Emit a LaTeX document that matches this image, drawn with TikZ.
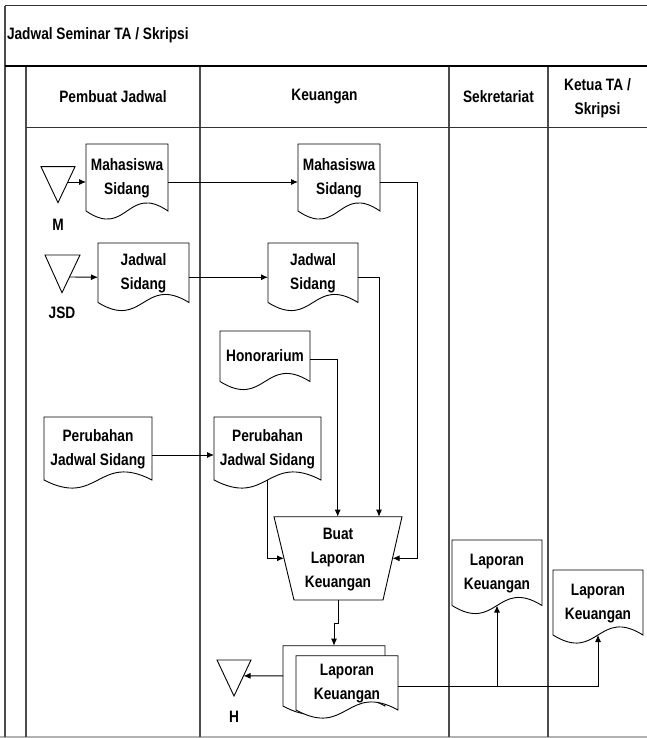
\documentclass[tikz,border=0pt]{standalone}
\usepackage{fontspec}
\setmainfont{Liberation Sans}[FakeStretch=0.83]
\usetikzlibrary{arrows.meta,calc,backgrounds}
\newcommand\dtxt[1]{\raisebox{4pt}{\begin{tabular}{@{}c@{}}#1\end{tabular}}}
\newcommand\ctxt[1]{\begin{tabular}{@{}c@{}}#1\end{tabular}}
\begin{document}
\begin{tikzpicture}[x=1pt,y=-1pt,
  every node/.style={font=\fontsize{16.5}{24}\selectfont\bfseries, inner sep=0pt, outer sep=0pt},
  docbox/.style={draw=none, anchor=north west, minimum width=#1},
  lane/.style={draw=black!70, line width=1.4pt},
  shapeline/.style={draw=black, line width=0.9pt, fill=white},
  conn/.style={draw=black, line width=0.9pt},
  arr/.style={conn, -{Latex[length=7pt,width=6pt]}}]
\useasboundingbox (0,0) rectangle (647,738);
% frame
\draw[black!30, line width=1.5pt] (0,737) -- (647,737);
\draw[black!80, line width=1pt] (5,6) -- (647,6);
\draw[lane] (5,6) -- (5,737);
\draw[lane] (26,66) -- (26,737);
\draw[lane] (200,66) -- (200,737);
\draw[lane] (449,66) -- (449,737);
\draw[lane] (548,66) -- (548,737);
\draw[black!80, line width=1pt] (26,128) -- (647,128);
\draw[black, line width=2.6pt] (5,66) -- (647,66);
% titles
\node[anchor=west] (title) at (7,35) {Jadwal Seminar TA / Skripsi};
\node (h1) at (113,97) {Pembuat Jadwal};
\node (h2) at (324.5,97) {Keuangan};
\node (h3) at (498.5,97) {Sekretariat};
\node (h4) at (597.5,98) {\ctxt{Ketua TA /\\Skripsi}};
% documents
\node[docbox=82pt, minimum height=67pt] (pM) at (86,144) {\dtxt{Mahasiswa\\Sidang}};
\node[docbox=91pt, minimum height=59.5pt] (pJ) at (98,243) {\dtxt{Jadwal\\Sidang}};
\node[docbox=82pt, minimum height=67pt] (kM) at (298,144) {\dtxt{Mahasiswa\\Sidang}};
\node[docbox=90pt, minimum height=59.5pt] (kJ) at (268,243) {\dtxt{Jadwal\\Sidang}};
\node[docbox=90pt, minimum height=50.5pt] (kH) at (220,331) {\dtxt{Honorarium}};
\node[docbox=108pt, minimum height=63pt] (pP) at (44,417) {\dtxt{Perubahan\\Jadwal Sidang}};
\node[docbox=107pt, minimum height=63pt] (kP) at (214,417) {\dtxt{Perubahan\\Jadwal Sidang}};
\node[docbox=90pt, minimum height=65.5pt] (sL) at (452,540) {\dtxt{Laporan\\Keuangan}};
\node[docbox=90pt, minimum height=65pt] (kL) at (553,570) {\dtxt{Laporan\\Keuangan}};
\node[docbox=102pt, minimum height=60.3pt] (Lb) at (283,645.7) {};
\node[docbox=102pt, minimum height=54.3pt] (Lf) at (296,655.7) {\dtxt{Laporan\\Keuangan}};
\begin{pgfonlayer}{background}
\foreach \n in {pM,pJ,kM,kJ,kH,pP,kP,sL,kL,Lb,Lf}
  \draw[shapeline] (\n.south west) -- (\n.north west) -- (\n.north east) -- (\n.south east)
    .. controls ($(\n.south)+(0,-28)$) and ($(\n.south)+(0,28)$) .. (\n.south west) -- cycle;
\end{pgfonlayer}
% process trapezoid
\draw[shapeline] (274,516.7) -- (402,516.7) -- (383,600) -- (294,600) -- cycle;
\node (T) at (338,558.3) {\ctxt{Buat\\Laporan\\Keuangan}};
\coordinate (Tr) at (392.5,558.3);
\coordinate (Tl) at (284,558.3);
\coordinate (Tt1) at (337.7,516.7);
\coordinate (Tt2) at (379,516.7);
\coordinate (Tb) at (338.5,600);
% off-page triangles
\draw[shapeline] (41,166.7) -- (75,166.7) -- (58,202.7) -- cycle;
\coordinate (tM) at (68,182);
\node (lM) at (58,225) {M};
\draw[shapeline] (45,255) -- (80,255) -- (62,292.7) -- cycle;
\coordinate (tJ) at (70,277);
\node (lJ) at (62,313) {JSD};
\draw[shapeline] (217,660) -- (251,660) -- (234,696) -- cycle;
\coordinate (tH) at (243.5,675.85);
\node (lH) at (234,717) {H};
% connectors
\draw[arr] (tM) -- ([yshift=-4.5pt]pM.west);
\draw[arr] ([yshift=-4.5pt]pM.east) -- ([yshift=-4.5pt]kM.west);
\draw[arr] (tJ) -- ([yshift=-4.5pt]pJ.west);
\draw[arr] ([yshift=-4.5pt]pJ.east) -- ([yshift=-4.5pt]kJ.west);
\coordinate (b5) at (417.7,182);
\draw[arr] ([yshift=-4.5pt]kM.east) -- (b5) |- (Tr);
\draw[arr] ([yshift=-4.5pt]kJ.east) -| (Tt2);
\draw[arr] ([yshift=-3.3pt]kH.east) -| (Tt1);
\draw[arr] ([yshift=-6.5pt]pP.east) -- ([yshift=-6.5pt]kP.west);
\draw[arr] (kP.south) |- (Tl);
\coordinate (k1) at (338.5,623);
\coordinate (k2) at (334,623);
\draw[arr] (Tb) -- (k1) -- (k2) -- (Lb.north);
\draw[arr] (Lb.west) -- (tH);
\coordinate (jS) at (497,686.7);
\draw[arr] ([yshift=-3.8pt]Lf.east) -| (kL.south);
\draw[arr] (jS) -- (sL.south);
\end{tikzpicture}
\end{document}
